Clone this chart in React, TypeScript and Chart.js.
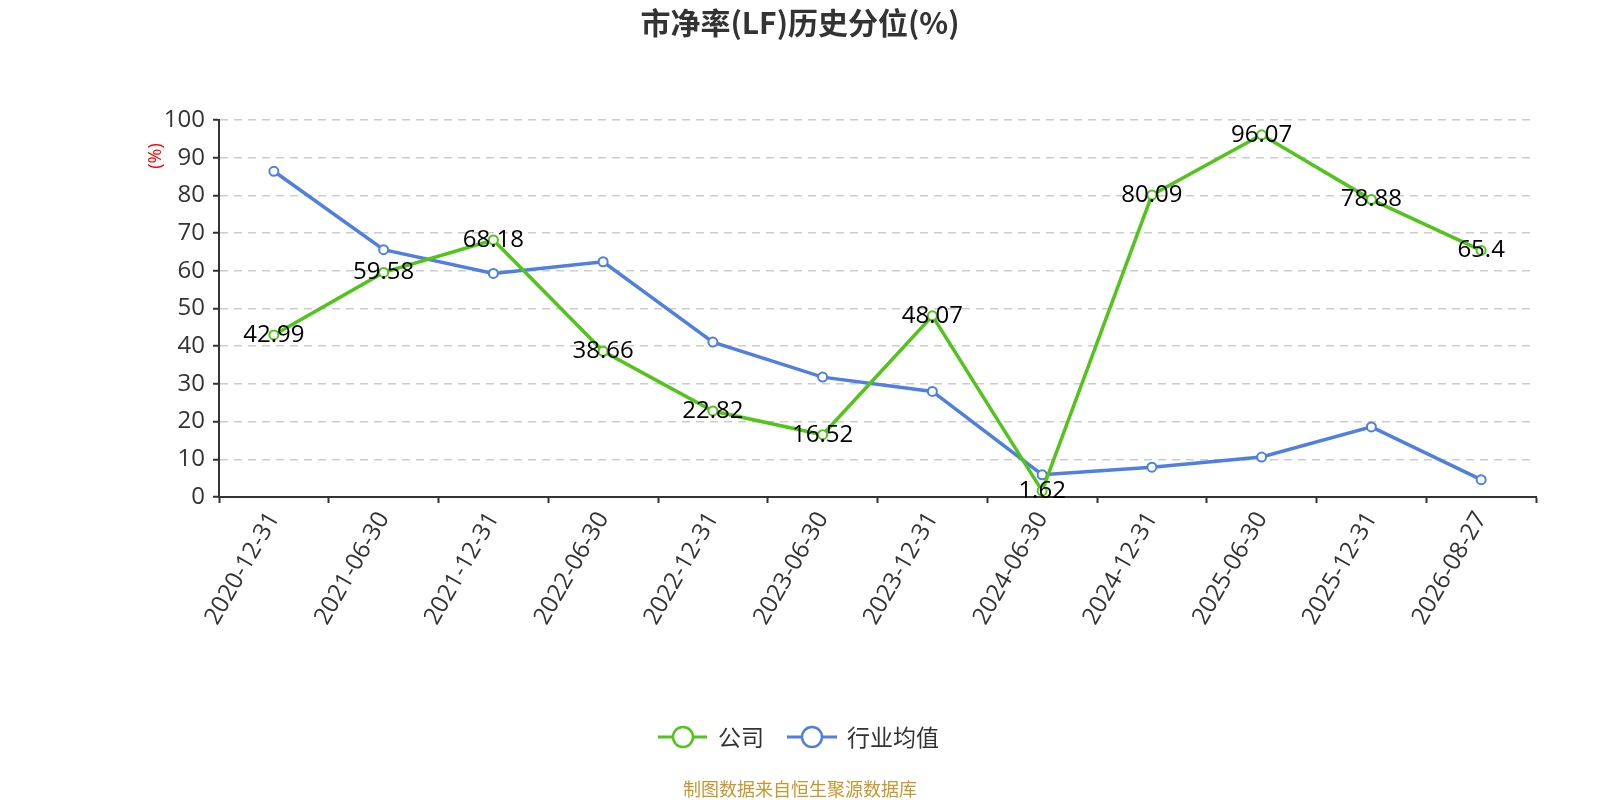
import React, { useEffect, useRef } from "react";
import { Chart, registerables } from "chart.js";

Chart.register(...registerables);

const categories = [
  "2020-12-31",
  "2021-06-30",
  "2021-12-31",
  "2022-06-30",
  "2022-12-31",
  "2023-06-30",
  "2023-12-31",
  "2024-06-30",
  "2024-12-31",
  "2025-06-30",
  "2025-12-31",
  "2026-08-27",
];
const companyValues = [42.99, 59.58, 68.18, 38.66, 22.82, 16.52, 48.07, 1.62, 80.09, 96.07, 78.88, 65.4];
const industryValues = [86.4, 65.6, 59.3, 62.4, 41.1, 31.8, 28.0, 5.9, 7.9, 10.6, 18.6, 4.6];
const seriesNames = ["公司", "行业均值"];
const yMin = 0;
const yMax = 100;
const yStep = 10;
const titleText = "市净率(LF)历史分位(%)";
const yAxisName = "(%)";
const footerText = "制图数据来自恒生聚源数据库";

const GREEN = "#52c41a";
const BLUE = "#4e7fe1";
const FONT = "'Open Sans', 'Noto Sans CJK SC', sans-serif";
const CJK = "'Noto Sans CJK SC', 'Open Sans', sans-serif";

const overlayPlugin = {
  id: "overlay",
  afterDatasetsDraw(chart: any) {
    const ctx = chart.ctx;
    const meta = chart.getDatasetMeta(0);
    ctx.save();
    ctx.font = `24px ${FONT}`;
    ctx.fillStyle = "#000";
    ctx.textAlign = "center";
    ctx.textBaseline = "middle";
    meta.data.forEach((pt: any, i: number) => {
      ctx.fillText(String(companyValues[i]), pt.x, pt.y);
    });
    ctx.restore();
  },
  afterDraw(chart: any) {
    const ctx = chart.ctx;
    ctx.save();
    // title
    ctx.font = `bold 30px ${CJK}`;
    ctx.fillStyle = "#333";
    ctx.textAlign = "center";
    ctx.textBaseline = "middle";
    ctx.fillText(titleText, 800, 23);

    // y axis name
    ctx.save();
    ctx.translate(156, 156);
    ctx.rotate(-Math.PI / 2);
    ctx.font = `18px ${FONT}`;
    ctx.fillStyle = "#ff0000";
    ctx.fillText(yAxisName, 0, 0);
    ctx.restore();

    // legend
    const ly = 737;
    const items = [
      { name: seriesNames[0], color: GREEN, x0: 658, x1: 707, cx: 683, tx: 718 },
      { name: seriesNames[1], color: BLUE, x0: 787, x1: 837, cx: 812, tx: 847 },
    ];
    items.forEach((it) => {
      ctx.strokeStyle = it.color;
      ctx.lineWidth = 3;
      ctx.beginPath();
      ctx.moveTo(it.x0, ly);
      ctx.lineTo(it.x1, ly);
      ctx.stroke();
      ctx.beginPath();
      ctx.arc(it.cx, ly, 10, 0, Math.PI * 2);
      ctx.fillStyle = "#fff";
      ctx.fill();
      ctx.lineWidth = 2.5;
      ctx.stroke();
      ctx.font = `23px ${CJK}`;
      ctx.fillStyle = "#333";
      ctx.textAlign = "left";
      ctx.textBaseline = "middle";
      ctx.fillText(it.name, it.tx, ly);
    });

    // footer
    ctx.font = `18px ${CJK}`;
    ctx.fillStyle = "#c8962d";
    ctx.textAlign = "center";
    ctx.textBaseline = "middle";
    ctx.fillText(footerText, 800, 789);
    ctx.restore();
  },
};

export default function App() {
  const ref = useRef<HTMLCanvasElement | null>(null);

  useEffect(() => {
    document.body.style.margin = "0";
    const canvas = ref.current;
    if (!canvas) return;
    const chart = new Chart(canvas, {
      type: "line",
      data: {
        labels: categories,
        datasets: [
          {
            label: seriesNames[0],
            data: companyValues,
            borderColor: GREEN,
            backgroundColor: "#fff",
            borderWidth: 3.5,
            pointRadius: 4.5,
            pointBorderWidth: 2,
            pointBackgroundColor: "#fff",
            pointBorderColor: GREEN,
            tension: 0,
          },
          {
            label: seriesNames[1],
            data: industryValues,
            borderColor: BLUE,
            backgroundColor: "#fff",
            borderWidth: 3.5,
            pointRadius: 4.5,
            pointBorderWidth: 2,
            pointBackgroundColor: "#fff",
            pointBorderColor: BLUE,
            tension: 0,
          },
        ],
      },
      options: {
        responsive: false,
        animation: false,
        devicePixelRatio: 1,
        layout: { padding: { top: 120, right: 64, left: 0, bottom: 0 } },
        plugins: {
          legend: { display: false },
          title: { display: false },
          tooltip: { enabled: false },
        },
        scales: {
          x: {
            type: "category",
            offset: true,
            grid: {
              display: true,
              offset: true,
              drawOnChartArea: false,
              drawTicks: true,
              tickLength: 6,
              tickColor: "#333",
              tickWidth: 2,
            },
            border: { display: true, color: "#333", width: 2 },
            ticks: {
              autoSkip: false,
              maxRotation: 60,
              minRotation: 60,
              color: "#333",
              font: { size: 24, family: FONT },
              padding: 4,
            },
            afterFit: (s: any) => {
              s.height = 303;
            },
          },
          y: {
            min: yMin,
            max: yMax,
            ticks: {
              stepSize: yStep,
              color: "#333",
              font: { size: 24, family: FONT },
              padding: 8,
            },
            grid: {
              color: "#ccc",
              lineWidth: 1.5,
              drawTicks: true,
              tickLength: 6,
              tickColor: "#333",
              tickWidth: 2,
            },
            border: { display: true, color: "#333", width: 2, dash: [8, 6] },
            afterFit: (s: any) => {
              s.width = 219;
            },
          },
        },
      },
      plugins: [overlayPlugin],
    } as any);
    return () => chart.destroy();
  }, []);

  return (
    <div style={{ width: 1600, height: 800, background: "#fff" }}>
      <canvas ref={ref} width={1600} height={800} style={{ display: "block", width: 1600, height: 800 }} />
    </div>
  );
}
